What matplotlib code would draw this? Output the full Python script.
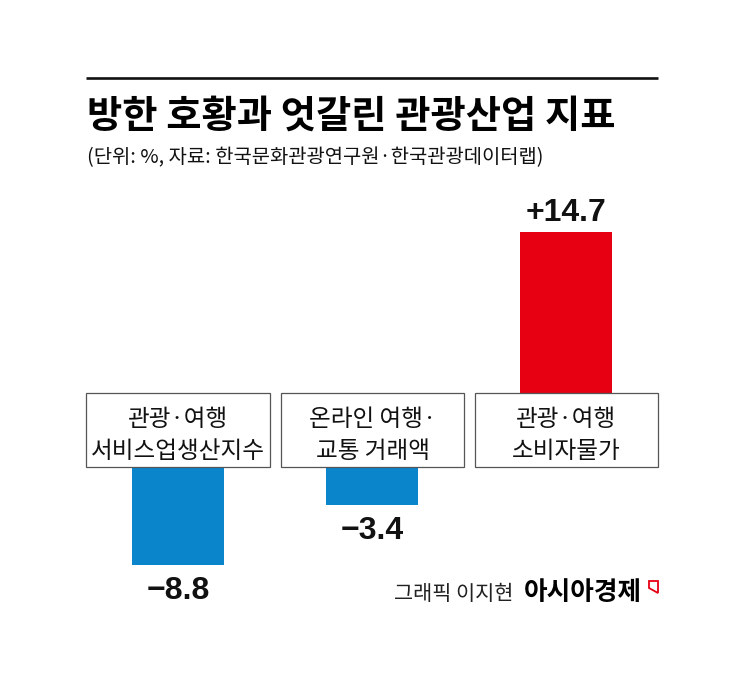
import matplotlib
matplotlib.use("Agg")
import matplotlib.pyplot as plt
from matplotlib.patches import Rectangle, Polygon

plt.rcParams['font.family'] = ['Noto Sans CJK KR', 'DejaVu Sans']

categories = ["관광·여행\n서비스업생산지수", "온라인 여행·\n교통 거래액", "관광·여행\n소비자물가"]
values = [-8.8, -3.4, 14.7]
title = "방한 호황과 엇갈린 관광산업 지표"
subtitle = "(단위: %, 자료: 한국문화관광연구원·한국관광데이터랩)"
credit = "그래픽 이지현"
brand = "아시아경제"

W, H = 745, 687
BLUE, RED = "#0A85CC", "#E60012"
TXT = "#111111"
fig = plt.figure(figsize=(W / 100, H / 100), dpi=100, facecolor="white")

def axes_px(x0, y0, x1, y1):
    return fig.add_axes([x0 / W, 1 - y1 / H, (x1 - x0) / W, (y1 - y0) / H])

def fx(x): return x / W
def fy(y): return 1 - y / H

SCALE = 11.1          # pixels per percentage point
UP_TOP, UP_BASE = 190, 395
DN_BASE, DN_BOT = 467, 620
L, R = 86, 658
SPACING = 194

ax_up = axes_px(L, UP_TOP, R, UP_BASE)
ax_dn = axes_px(L, DN_BASE, R, DN_BOT)
xlim = (-(178 - L) / SPACING, 2 + (R - 566) / SPACING)
for ax in (ax_up, ax_dn):
    ax.set_xlim(xlim)
    ax.axis("off")
    ax.patch.set_alpha(0)
ax_up.set_ylim(0, (UP_BASE - UP_TOP) / SCALE)
ax_dn.set_ylim(-(DN_BOT - DN_BASE) / SCALE, 0)

bw = 92 / SPACING
for i, v in enumerate(values):
    ax = ax_up if v > 0 else ax_dn
    ax.bar(i, v, width=bw, color=RED if v > 0 else BLUE, linewidth=0)
    label = f"+{v:.1f}" if v > 0 else f"\u2212{abs(v):.1f}"
    ax.annotate(label, (i, v), xytext=(0, 3 if v > 0 else -8), textcoords="offset points",
                ha="center", va="bottom" if v > 0 else "top",
                fontsize=23, fontweight="bold", color=TXT, family=['Liberation Sans', 'DejaVu Sans'])

box_x = [(86, 270), (281, 464), (475, 658)]
for (x0, x1), cat in zip(box_x, categories):
    fig.add_artist(Rectangle((fx(x0), fy(467)), (x1 - x0) / W, 74 / H, transform=fig.transFigure,
                             facecolor="white", edgecolor="#555555", linewidth=0.9))
    lines = cat.split("\n")
    fig.text(fx((x0 + x1) / 2), fy(419), lines[0], ha="center", va="center", fontsize=17, color=TXT)
    fig.text(fx((x0 + x1) / 2), fy(451), lines[1], ha="center", va="center", fontsize=17, color=TXT)

fig.add_artist(plt.Line2D([fx(86), fx(658)], [fy(77.5), fy(77.5)], color="#111111", linewidth=1.9,
                          solid_capstyle="butt"))
fig.text(fx(87), fy(116), title, fontsize=27.6, fontweight=900, color="#000000", va="center", ha="left")
fig.text(fx(87), fy(158), subtitle, fontsize=14.3, color=TXT, va="center", ha="left")

fig.text(fx(513), fy(594), credit, fontsize=15, color="#222222", va="center", ha="right")
fig.text(fx(642), fy(592), brand, fontsize=18.5, fontweight=900, color="#000000", va="center", ha="right")
fig.add_artist(Polygon([(fx(649), fy(581)), (fx(658), fy(581)), (fx(658), fy(593)), (fx(649), fy(588))],
                       closed=True, transform=fig.transFigure, facecolor="white", edgecolor=RED, linewidth=1.3))

fig.savefig("out.png", dpi=100, facecolor="white")
